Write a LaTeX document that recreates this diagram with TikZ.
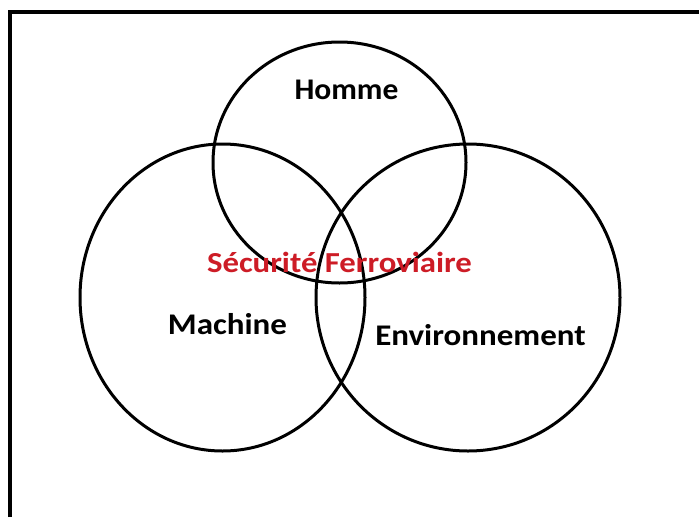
\documentclass[tikz,border=0pt]{standalone}
\usepackage{fontspec}
\setmainfont{Carlito}
\usetikzlibrary{shapes.geometric}
\definecolor{safetyred}{RGB}{205,28,38}
\begin{document}
\begin{tikzpicture}[x=1pt,y=-1pt,
  ring/.style={draw=black,line width=3pt,ellipse,inner sep=0pt,outer sep=0pt},
  caption/.style={anchor=base,inner sep=0pt},
  label/.style={caption,font=\bfseries\fontsize{30}{36}\selectfont,xscale=1.1},
  hub/.style={caption,text=safetyred,font=\bfseries\fontsize{29}{34}\selectfont,xscale=1.13}]
  \useasboundingbox (0,0) rectangle (699,517);
  \fill[white] (0,0) rectangle (699,517);

  % open frame: left and top sides
  \coordinate (fbl) at (10,517);
  \coordinate (ftl) at (10,12);
  \coordinate (ftr) at (699,12);
  \draw[line width=3.2pt] (fbl) -- (ftl) -- (ftr);

  % the three overlapping sets
  \node[ring,minimum width=253pt,minimum height=241pt] (homme) at (339.5,162.5) {};
  \node[ring,minimum width=285pt,minimum height=307pt] (machine) at (222.5,297.5) {};
  \node[ring,minimum width=304pt,minimum height=307pt] (env) at (468,297.5) {};

  % set names
  \node[caption,font=\bfseries\fontsize{30}{36}\selectfont,xscale=1.05] (thomme) at (346.5,99) {Homme};
  \node[label] (tmachine) at (227.5,334) {Machine};
  \node[label] (tenv) at (480.5,345) {Environnement};
  \node[hub] (tsafety) at (339.5,272) {Sécurité Ferroviaire};
\end{tikzpicture}
\end{document}
